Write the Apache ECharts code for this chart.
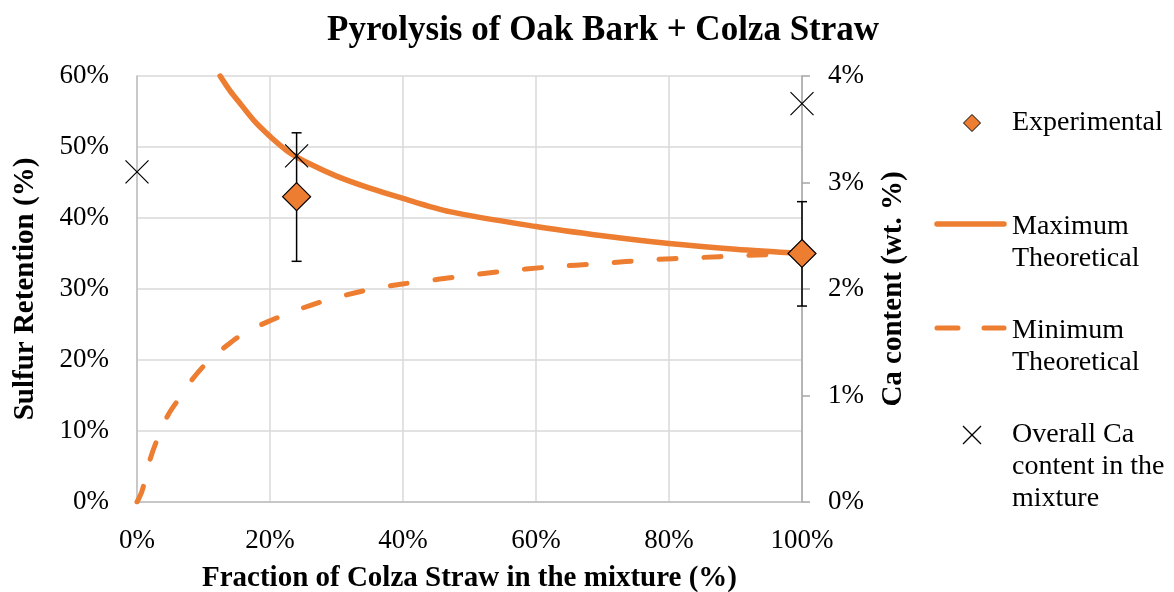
<!DOCTYPE html>
<html>
<head>
<meta charset="utf-8">
<script src="https://cdn.jsdelivr.net/npm/echarts@6/dist/echarts.min.js"></script>
<style>
html,body{margin:0;padding:0;background:#fff;}
#c{width:1174px;height:592px;}
</style>
</head>
<body>
<div id="c"></div>
<script>
// ---- data ----
var xTicks = ['0%', '20%', '40%', '60%', '80%', '100%'];
var maxTheoretical = [
  [12.5, 60.0], [14, 57.9], [15.7, 55.9], [17.7, 53.6], [20, 51.5], [22.8, 49.3], [25.8, 47.7],
  [30, 45.9], [35, 44.2], [39.5, 42.9], [47, 40.9], [60, 38.8], [70, 37.5], [80, 36.4], [90, 35.6], [100, 35.0]
];
var minTheoretical = [
  [0, 0], [0.7, 1.4], [1.2, 3.1], [2.0, 6.1], [3.2, 9.2], [4.7, 12.3], [6.5, 14.8],
  [8.6, 17.6], [10.9, 20.0], [13.6, 22.1], [16.3, 23.9], [19.7, 25.4], [22.8, 26.6],
  [26.1, 27.7], [29.5, 28.7], [33, 29.5], [36.3, 30.2], [39.9, 30.7], [43.1, 31.1],
  [48, 31.7], [55, 32.5], [62, 33.1], [70, 33.6], [77, 34.1], [84, 34.4], [91, 34.7], [100, 35.0]
];
var experimentalX = [24, 100];
var experimentalY = [43.0, 35.0];
var experimentalLow = [33.9, 27.6];
var experimentalHigh = [52.0, 42.3];
var caX = [0, 24, 100];
var caY = [3.10, 3.25, 3.74];

var ORANGE = '#ED7D31';
var FONT = '"Liberation Serif", "Times New Roman", serif';

var expData = experimentalX.map(function (x, i) { return [x, experimentalY[i]]; });
var errData = experimentalX.map(function (x, i) { return [x, experimentalLow[i], experimentalHigh[i]]; });
var caData = caX.map(function (x, i) { return [x, caY[i]]; });

var chart = echarts.init(document.getElementById('c'), null, {renderer: 'canvas'});

var option = {
  animation: false,
  backgroundColor: '#fff',
  grid: {left: 137, right: 372, top: 76, bottom: 90, containLabel: false, outerBoundsMode: 'none'},
  xAxis: {
    type: 'value', min: 0, max: 100, interval: 20,
    name: 'Fraction of Colza Straw in the mixture (%)',
    nameLocation: 'middle', nameGap: 62,
    nameTextStyle: {fontFamily: FONT, fontWeight: 'bold', fontSize: 29, color: '#000'},
    axisLine: {show: true, lineStyle: {color: '#bfbfbf', width: 1.5}},
    axisTick: {show: false},
    axisLabel: {fontFamily: FONT, fontSize: 27, color: '#000', margin: 25,
      formatter: function (v) { return xTicks[Math.round(v / 20)]; }},
    splitLine: {show: true, lineStyle: {color: '#d9d9d9', width: 1.5}}
  },
  yAxis: [{
    type: 'value', min: 0, max: 60, interval: 10,
    name: 'Sulfur Retention (%)', nameLocation: 'middle', nameGap: 97, nameRotate: 90,
    nameTextStyle: {fontFamily: FONT, fontWeight: 'bold', fontSize: 29, color: '#000'},
    axisLine: {show: true, lineStyle: {color: '#bfbfbf', width: 1.5}},
    axisTick: {show: false},
    axisLabel: {fontFamily: FONT, fontSize: 27, color: '#000', margin: 28, formatter: '{value}%'},
    splitLine: {show: true, lineStyle: {color: '#d9d9d9', width: 1.5}}
  }, {
    type: 'value', min: 0, max: 4, interval: 1, position: 'right',
    name: 'Ca content (wt. %)', nameLocation: 'middle', nameGap: 77, nameRotate: 90,
    nameTextStyle: {fontFamily: FONT, fontWeight: 'bold', fontSize: 29, color: '#000'},
    axisLine: {show: true, lineStyle: {color: '#a6a6a6', width: 1.5}},
    axisTick: {show: true, inside: false, length: 8, lineStyle: {color: '#a6a6a6', width: 1.5}},
    axisLabel: {fontFamily: FONT, fontSize: 27, color: '#000', margin: 26, formatter: '{value}%'},
    splitLine: {show: false}
  }],
  series: [
    {
      name: 'Maximum Theoretical', type: 'line', data: maxTheoretical,
      smooth: 0.3, showSymbol: false, symbol: 'none',
      lineStyle: {color: ORANGE, width: 5.5, cap: 'round', join: 'round'}, z: 2
    },
    {
      name: 'Minimum Theoretical', type: 'line', data: minTheoretical,
      smooth: 0.3, showSymbol: false, symbol: 'none',
      lineStyle: {color: ORANGE, width: 5, type: [17, 28], cap: 'round', join: 'round'}, z: 2
    },
    {
      name: 'err', type: 'custom', data: errData, z: 3,
      renderItem: function (params, api) {
        var x = api.value(0);
        var lo = api.coord([x, api.value(1)]);
        var hi = api.coord([x, api.value(2)]);
        var hw = 5;
        var st = {stroke: '#000', lineWidth: 1.5};
        return {type: 'group', children: [
          {type: 'line', shape: {x1: lo[0], y1: lo[1], x2: hi[0], y2: hi[1]}, style: st},
          {type: 'line', shape: {x1: lo[0] - hw, y1: lo[1], x2: lo[0] + hw, y2: lo[1]}, style: st},
          {type: 'line', shape: {x1: hi[0] - hw, y1: hi[1], x2: hi[0] + hw, y2: hi[1]}, style: st}
        ]};
      }
    },
    {
      name: 'Experimental', type: 'scatter', data: expData, symbol: 'diamond', symbolSize: 28, z: 4,
      itemStyle: {color: ORANGE, borderColor: '#000', borderWidth: 1.2, opacity: 1}
    },
    {
      name: 'Overall Ca content in the mixture', type: 'scatter', yAxisIndex: 1, data: caData,
      symbol: 'path://M0,0L10,10M10,0L0,10', symbolSize: 23, z: 5,
      itemStyle: {color: 'rgba(0,0,0,0)', borderColor: '#000', borderWidth: 1.2, opacity: 1}
    }
  ],
  graphic: [
    {type: 'text', left: 604 - 277, top: 13, style: {text: 'Pyrolysis of Oak Bark + Colza Straw',
      fontFamily: FONT, fontWeight: 'bold', fontSize: 35, fill: '#000'}},
    // legend
    {type: 'polygon', shape: {points: [[972, 114.5], [980.5, 123], [972, 131.5], [963.5, 123]]},
      style: {fill: ORANGE, stroke: '#000', lineWidth: 1}},
    {type: 'text', x: 1012, y: 123, style: {text: 'Experimental', fontFamily: FONT, fontSize: 28,
      fill: '#000', verticalAlign: 'middle'}},
    {type: 'line', shape: {x1: 937, y1: 224, x2: 1004, y2: 224},
      style: {stroke: ORANGE, lineWidth: 5.5, lineCap: 'round'}},
    {type: 'text', x: 1012, y: 242.5, style: {text: 'Maximum\nTheoretical', fontFamily: FONT, fontSize: 28,
      lineHeight: 32, fill: '#000', verticalAlign: 'middle'}},
    {type: 'line', shape: {x1: 937, y1: 328, x2: 958, y2: 328},
      style: {stroke: ORANGE, lineWidth: 5, lineCap: 'round'}},
    {type: 'line', shape: {x1: 984, y1: 328, x2: 1004, y2: 328},
      style: {stroke: ORANGE, lineWidth: 5, lineCap: 'round'}},
    {type: 'text', x: 1012, y: 346.5, style: {text: 'Minimum\nTheoretical', fontFamily: FONT, fontSize: 28,
      lineHeight: 32, fill: '#000', verticalAlign: 'middle'}},
    {type: 'line', shape: {x1: 963, y1: 426, x2: 981, y2: 444}, style: {stroke: '#000', lineWidth: 1.2}},
    {type: 'line', shape: {x1: 981, y1: 426, x2: 963, y2: 444}, style: {stroke: '#000', lineWidth: 1.2}},
    {type: 'text', x: 1012, y: 467, style: {text: 'Overall Ca\ncontent in the\nmixture', fontFamily: FONT, fontSize: 28,
      lineHeight: 32, fill: '#000', verticalAlign: 'middle'}}
  ]
};
chart.setOption(option);
</script>
</body>
</html>
